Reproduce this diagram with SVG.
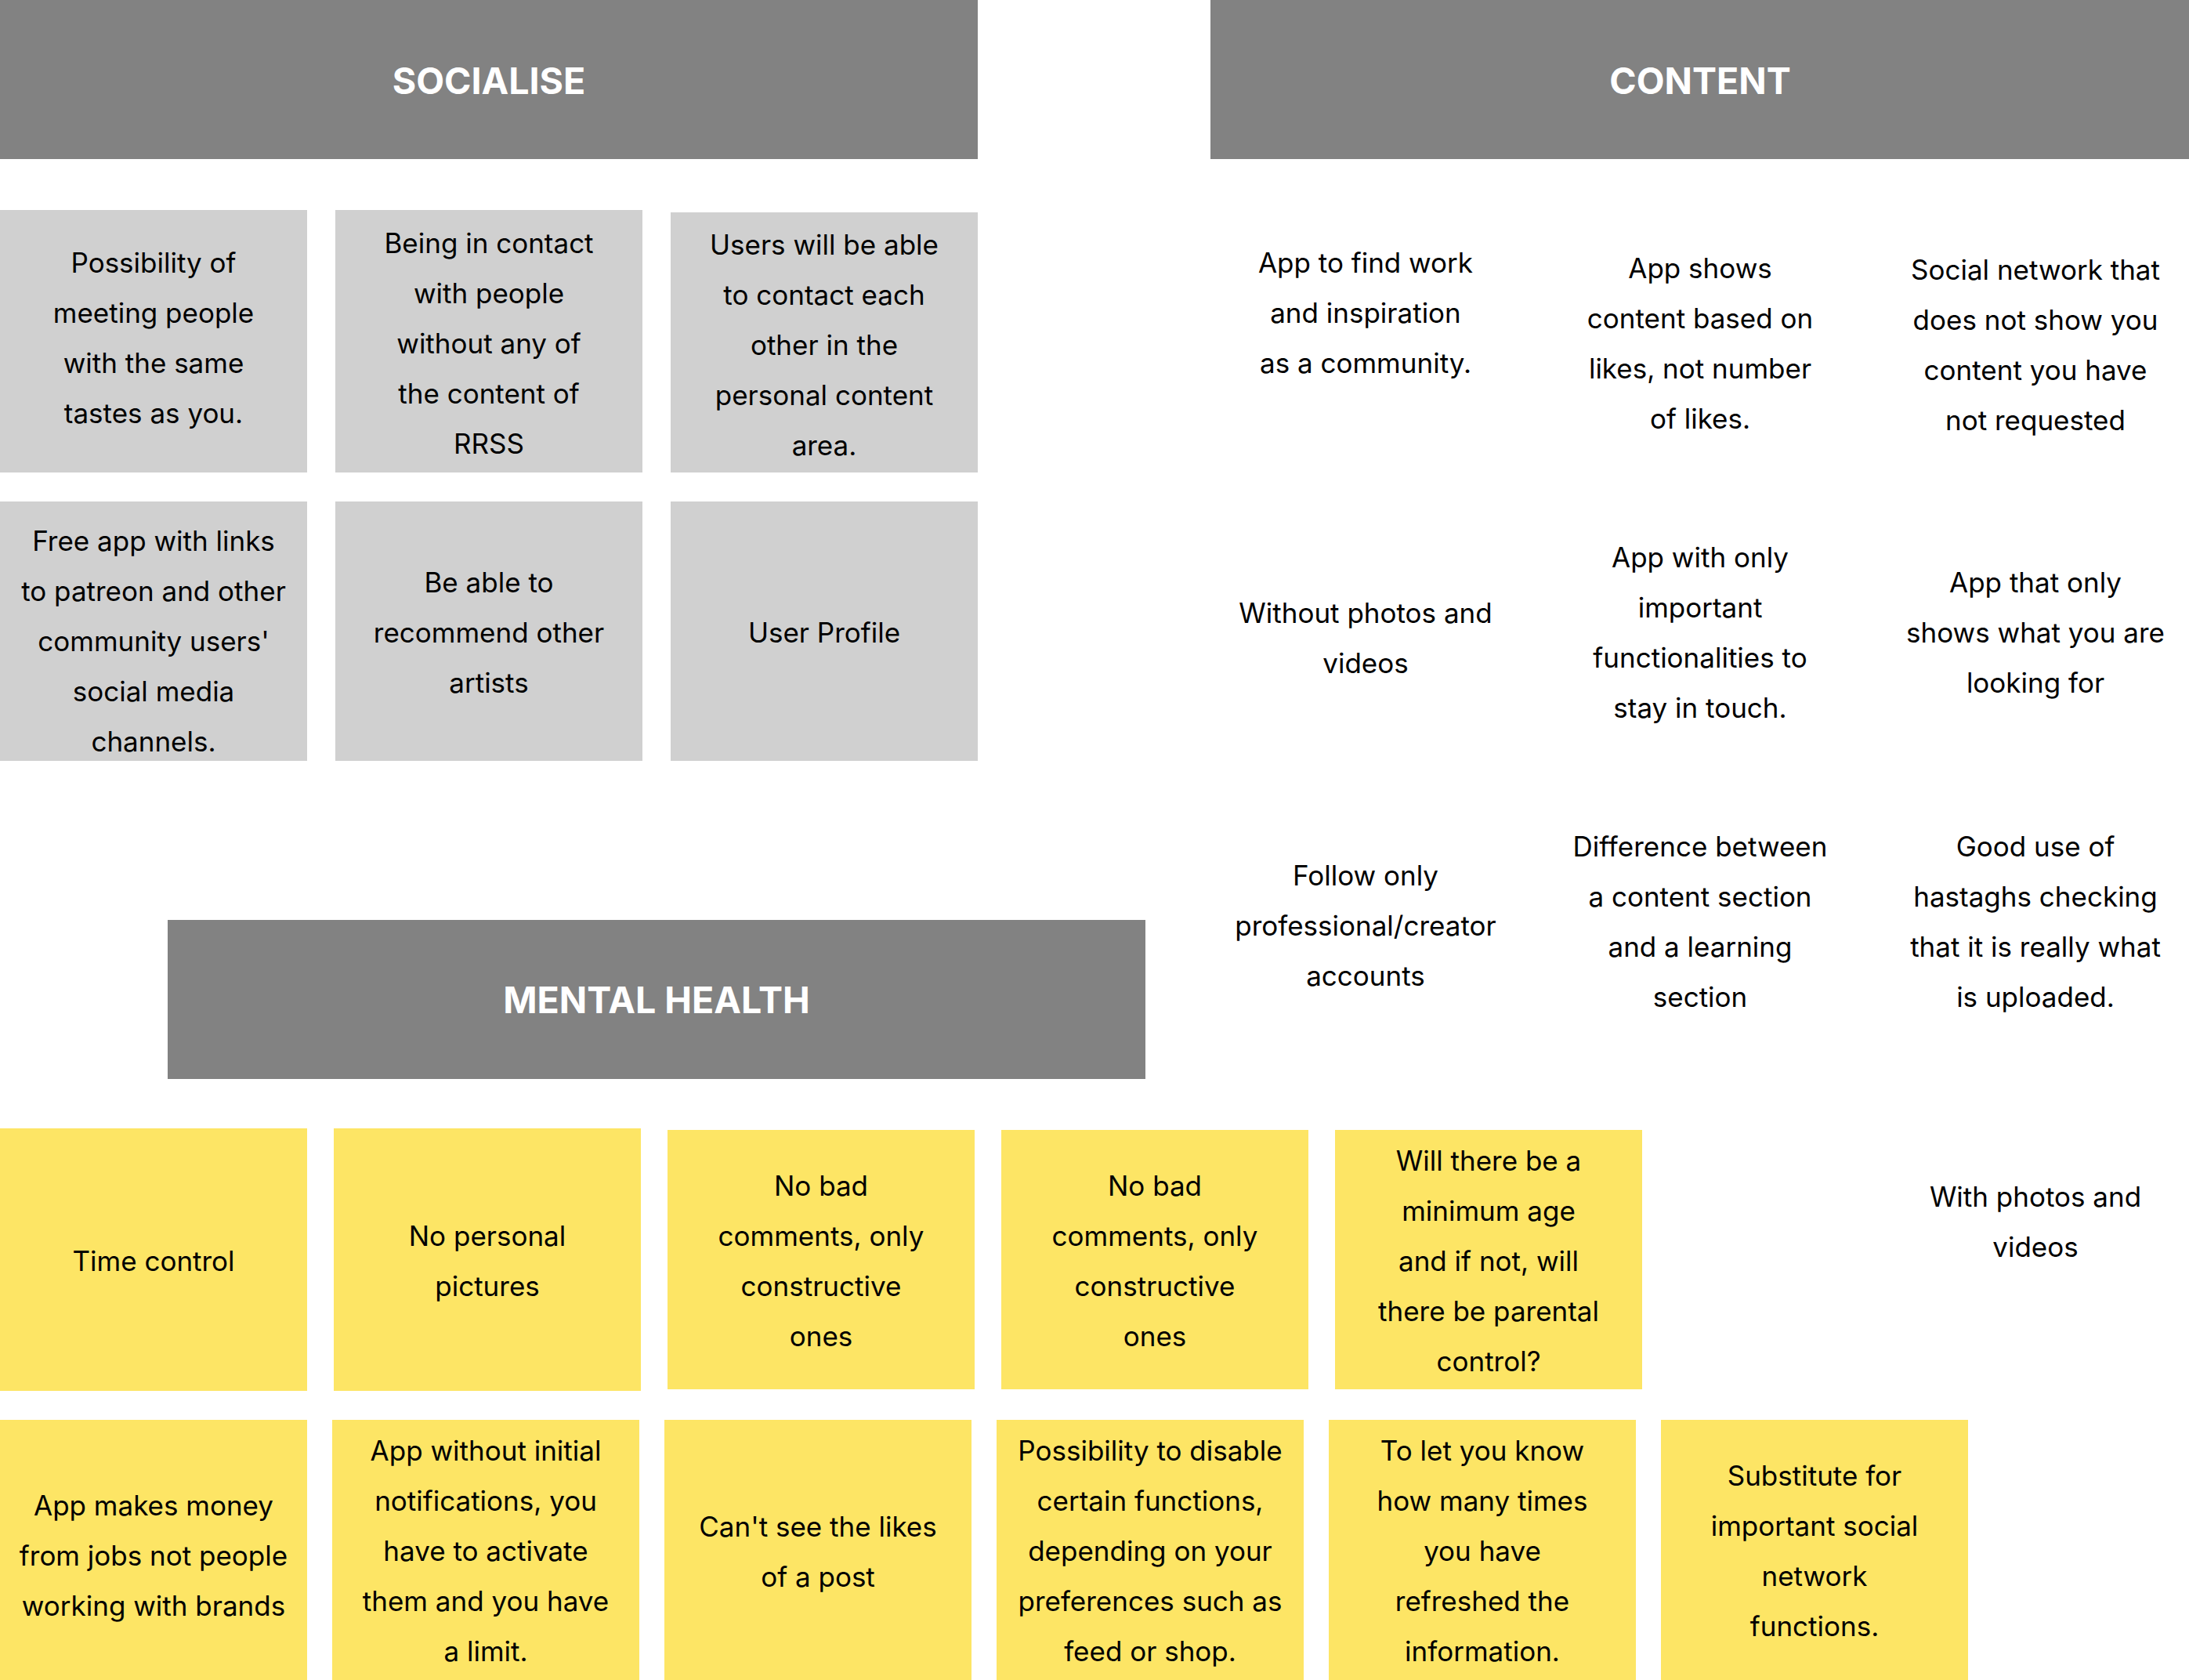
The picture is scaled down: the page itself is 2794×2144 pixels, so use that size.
<svg xmlns="http://www.w3.org/2000/svg" width="2794" height="2144" viewBox="0 0 2794 2144">
<style>
.hdr{fill:#828282}
.gc{fill:#D0D0D0}
.yc{fill:#FDE565}
.ht{font-family:Inter,"Liberation Sans",sans-serif;font-size:46.5px;font-weight:700;fill:#FFFFFF;text-anchor:middle}
.t{font-family:Inter,"Liberation Sans",sans-serif;font-size:35px;font-weight:400;fill:#000000;text-anchor:middle}
</style>
<rect width="2794" height="2144" fill="#FFFFFF"/>
<g id="connectors"/>

<g id="socialise-header"><rect class="hdr" x="0" y="0" width="1248" height="203"/><text class="ht" x="624" y="120">SOCIALISE</text></g>
<g id="content-header"><rect class="hdr" x="1545" y="0" width="1249" height="203"/><text class="ht" x="2170" y="120">CONTENT</text></g>
<g id="mental-health-header"><rect class="hdr" x="214" y="1174" width="1248" height="203"/><text class="ht" x="838" y="1293">MENTAL HEALTH</text></g>

<g id="s1"><rect class="gc" x="0" y="268" width="392" height="335"/><text class="t" y="348"><tspan x="196">Possibility of</tspan><tspan x="196" dy="64">meeting people</tspan><tspan x="196" dy="64">with the same</tspan><tspan x="196" dy="64">tastes as you.</tspan></text></g>
<g id="s2"><rect class="gc" x="428" y="268" width="392" height="335"/><text class="t" y="323"><tspan x="624">Being in contact</tspan><tspan x="624" dy="64">with people</tspan><tspan x="624" dy="64">without any of</tspan><tspan x="624" dy="64">the content of</tspan><tspan x="624" dy="64">RRSS</tspan></text></g>
<g id="s3"><rect class="gc" x="856" y="271" width="392" height="332"/><text class="t" y="325"><tspan x="1052">Users will be able</tspan><tspan x="1052" dy="64">to contact each</tspan><tspan x="1052" dy="64">other in the</tspan><tspan x="1052" dy="64">personal content</tspan><tspan x="1052" dy="64">area.</tspan></text></g>
<g id="s4"><rect class="gc" x="0" y="640" width="392" height="331"/><text class="t" y="703"><tspan x="196">Free app with links</tspan><tspan x="196" dy="64">to patreon and other</tspan><tspan x="196" dy="64">community users'</tspan><tspan x="196" dy="64">social media</tspan><tspan x="196" dy="64">channels.</tspan></text></g>
<g id="s5"><rect class="gc" x="428" y="640" width="392" height="331"/><text class="t" y="756"><tspan x="624">Be able to</tspan><tspan x="624" dy="64">recommend other</tspan><tspan x="624" dy="64">artists</tspan></text></g>
<g id="s6"><rect class="gc" x="856" y="640" width="392" height="331"/><text class="t" y="820"><tspan x="1052">User Profile</tspan></text></g>

<g id="c1"><text class="t" y="348"><tspan x="1743">App to find work</tspan><tspan x="1743" dy="64">and inspiration</tspan><tspan x="1743" dy="64">as a community.</tspan></text></g>
<g id="c2"><text class="t" y="355"><tspan x="2170">App shows</tspan><tspan x="2170" dy="64">content based on</tspan><tspan x="2170" dy="64">likes, not number</tspan><tspan x="2170" dy="64">of likes.</tspan></text></g>
<g id="c3"><text class="t" y="357"><tspan x="2598">Social network that</tspan><tspan x="2598" dy="64">does not show you</tspan><tspan x="2598" dy="64">content you have</tspan><tspan x="2598" dy="64">not requested</tspan></text></g>
<g id="c4"><text class="t" y="795"><tspan x="1743">Without photos and</tspan><tspan x="1743" dy="64">videos</tspan></text></g>
<g id="c5"><text class="t" y="724"><tspan x="2170">App with only</tspan><tspan x="2170" dy="64">important</tspan><tspan x="2170" dy="64">functionalities to</tspan><tspan x="2170" dy="64">stay in touch.</tspan></text></g>
<g id="c6"><text class="t" y="756"><tspan x="2598">App that only</tspan><tspan x="2598" dy="64">shows what you are</tspan><tspan x="2598" dy="64">looking for</tspan></text></g>
<g id="c7"><text class="t" y="1130"><tspan x="1743">Follow only</tspan><tspan x="1743" dy="64">professional/creator</tspan><tspan x="1743" dy="64">accounts</tspan></text></g>
<g id="c8"><text class="t" y="1093"><tspan x="2170">Difference between</tspan><tspan x="2170" dy="64">a content section</tspan><tspan x="2170" dy="64">and a learning</tspan><tspan x="2170" dy="64">section</tspan></text></g>
<g id="c9"><text class="t" y="1093"><tspan x="2598">Good use of</tspan><tspan x="2598" dy="64">hastaghs checking</tspan><tspan x="2598" dy="64">that it is really what</tspan><tspan x="2598" dy="64">is uploaded.</tspan></text></g>
<g id="c10"><text class="t" y="1540"><tspan x="2598">With photos and</tspan><tspan x="2598" dy="64">videos</tspan></text></g>

<g id="m1"><rect class="yc" x="0" y="1440" width="392" height="335"/><text class="t" y="1622"><tspan x="196">Time control</tspan></text></g>
<g id="m2"><rect class="yc" x="426" y="1440" width="392" height="335"/><text class="t" y="1590"><tspan x="622">No personal</tspan><tspan x="622" dy="64">pictures</tspan></text></g>
<g id="m3"><rect class="yc" x="852" y="1442" width="392" height="331"/><text class="t" y="1526"><tspan x="1048">No bad</tspan><tspan x="1048" dy="64">comments, only</tspan><tspan x="1048" dy="64">constructive</tspan><tspan x="1048" dy="64">ones</tspan></text></g>
<g id="m4"><rect class="yc" x="1278" y="1442" width="392" height="331"/><text class="t" y="1526"><tspan x="1474">No bad</tspan><tspan x="1474" dy="64">comments, only</tspan><tspan x="1474" dy="64">constructive</tspan><tspan x="1474" dy="64">ones</tspan></text></g>
<g id="m5"><rect class="yc" x="1704" y="1442" width="392" height="331"/><text class="t" y="1494"><tspan x="1900">Will there be a</tspan><tspan x="1900" dy="64">minimum age</tspan><tspan x="1900" dy="64">and if not, will</tspan><tspan x="1900" dy="64">there be parental</tspan><tspan x="1900" dy="64">control?</tspan></text></g>

<g id="m6"><rect class="yc" x="0" y="1812" width="392" height="332"/><text class="t" y="1934"><tspan x="196">App makes money</tspan><tspan x="196" dy="64">from jobs not people</tspan><tspan x="196" dy="64">working with brands</tspan></text></g>
<g id="m7"><rect class="yc" x="424" y="1812" width="392" height="332"/><text class="t" y="1864"><tspan x="620">App without initial</tspan><tspan x="620" dy="64">notifications, you</tspan><tspan x="620" dy="64">have to activate</tspan><tspan x="620" dy="64">them and you have</tspan><tspan x="620" dy="64">a limit.</tspan></text></g>
<g id="m8"><rect class="yc" x="848" y="1812" width="392" height="332"/><text class="t" y="1961"><tspan x="1044">Can't see the likes</tspan><tspan x="1044" dy="64">of a post</tspan></text></g>
<g id="m9"><rect class="yc" x="1272" y="1812" width="392" height="332"/><text class="t" y="1864"><tspan x="1468">Possibility to disable</tspan><tspan x="1468" dy="64">certain functions,</tspan><tspan x="1468" dy="64">depending on your</tspan><tspan x="1468" dy="64">preferences such as</tspan><tspan x="1468" dy="64">feed or shop.</tspan></text></g>
<g id="m10"><rect class="yc" x="1696" y="1812" width="392" height="332"/><text class="t" y="1864"><tspan x="1892">To let you know</tspan><tspan x="1892" dy="64">how many times</tspan><tspan x="1892" dy="64">you have</tspan><tspan x="1892" dy="64">refreshed the</tspan><tspan x="1892" dy="64">information.</tspan></text></g>
<g id="m11"><rect class="yc" x="2120" y="1812" width="392" height="332"/><text class="t" y="1896"><tspan x="2316">Substitute for</tspan><tspan x="2316" dy="64">important social</tspan><tspan x="2316" dy="64">network</tspan><tspan x="2316" dy="64">functions.</tspan></text></g>
</svg>
